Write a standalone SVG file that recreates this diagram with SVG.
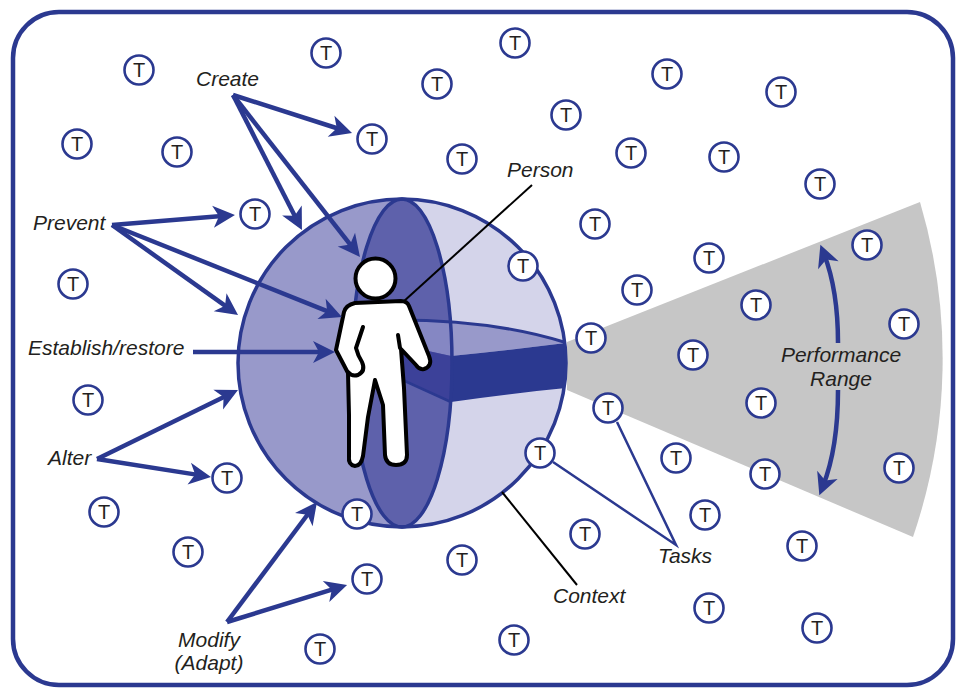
<svg xmlns="http://www.w3.org/2000/svg" width="961" height="689" viewBox="0 0 961 689">
  <style>
    .frame { fill: #ffffff; stroke: #2B3990; stroke-width: 4.5; }
    .task circle { fill: #ffffff; stroke: #2B3990; stroke-width: 2.6; }
    .task text { font-family: "Liberation Sans", Arial, sans-serif; font-size: 20px; fill: #231F20; text-anchor: middle; }
    .label { font-family: "Liberation Sans", Arial, sans-serif; font-size: 21px; font-style: italic; fill: #231F20; }
    .mid { text-anchor: middle; }
    .arrow { fill: none; stroke: #2B3990; stroke-width: 4.5; marker-end: url(#head); }
    .leader { fill: none; stroke: #000000; stroke-width: 2; }
    .taskline { fill: none; stroke: #2B3990; stroke-width: 2.5; }
    .figure { fill: #ffffff; stroke: #000000; stroke-width: 4; stroke-linejoin: round; stroke-linecap: round; }
    .figline { fill: none; stroke: #000000; stroke-width: 4; stroke-linejoin: round; stroke-linecap: round; }
  </style>
  <defs>
    <marker id="head" viewBox="-13 -12 24 24" markerWidth="24" markerHeight="24" refX="0" refY="0" orient="auto" markerUnits="userSpaceOnUse" overflow="visible">
      <path d="M10,0 L-12,-11 L-6,0 L-12,11 Z" fill="#2B3990"/>
    </marker>
    <clipPath id="ball">
      <circle cx="402" cy="363" r="164"/>
    </clipPath>
  </defs>

  <!-- outer frame -->
  <rect class="frame" x="13" y="12" width="940" height="673" rx="46" ry="46"/>

  <!-- performance range wedge -->
  <g id="performance-range">
    <path d="M567,342 L920,202 A552,552 0 0 1 913,537 L567,390 Z" fill="#C6C6C6"/>
  </g>

  <!-- context sphere with cut-away -->
  <g id="context">
    <circle cx="402" cy="363" r="164" fill="#D4D4EA"/>
    <path d="M402,199 A164,164 0 0 0 402,527 Z" fill="#9899CA"/>
    <ellipse cx="402" cy="363" rx="50" ry="164" fill="#5E61AB"/>
    <g clip-path="url(#ball)">
      <!-- upper face of the equatorial slice -->
      <path d="M396,320 Q425,320 451,323 L451,356 L396,344 Z" fill="#8587C3"/>
      <path d="M451,323 C490,326 530,332 567,343 Q510,350 451,356 Z" fill="#9899CA"/>
      <!-- front rim of the slice -->
      <path d="M396,344 L451,356 L451,402 L396,377 Z" fill="#3C4199"/>
      <path d="M451,356 Q510,350 567,343 L567,388 Q505,394 451,402 Z" fill="#2B3990"/>
      <path d="M396,377 L451,402" fill="none" stroke="#2B3990" stroke-width="2.5"/>
      <path d="M396,320 C460,320 520,328 567,343" fill="none" stroke="#2B3990" stroke-width="3"/>
    </g>
    <ellipse cx="402" cy="363" rx="50" ry="164" fill="none" stroke="#2B3990" stroke-width="3.5"/>
    <circle cx="402" cy="363" r="164" fill="none" stroke="#2B3990" stroke-width="3.5"/>
  </g>

  <!-- person figure -->
  <g id="person">
    <circle class="figure" cx="375.5" cy="278.5" r="20"/>
    <path class="figure" d="M355,303 L401,301 Q407,301 409,306 L429,356 Q433,366 424,369 Q419,370 416,365 L401,349 L404,388 L407,455 Q407,465 396,465 Q386,465 385,455 L383,405 L375,380 L368,417 L363,456 Q361,466 355,466 Q348,465 349,456 L349,415 L348,373 L336,350 L344,312 Q346,305 355,303 Z"/>
    <path class="figline" d="M348,372 Q352,377 358,375 Q366,371 362,362 Q358,356 356,348 L363,327"/>
    <path class="figline" d="M398,335 L400,348"/>
  </g>

  <!-- tasks -->
  <g id="t01" class="task"><circle cx="139" cy="70" r="14.5"/><text x="139" y="77">T</text></g>
  <g id="t02" class="task"><circle cx="326" cy="53" r="14.5"/><text x="326" y="60">T</text></g>
  <g id="t03" class="task"><circle cx="515" cy="43" r="14.5"/><text x="515" y="50">T</text></g>
  <g id="t04" class="task"><circle cx="437" cy="84" r="14.5"/><text x="437" y="91">T</text></g>
  <g id="t05" class="task"><circle cx="667" cy="74" r="14.5"/><text x="667" y="81">T</text></g>
  <g id="t06" class="task"><circle cx="781" cy="92" r="14.5"/><text x="781" y="99">T</text></g>
  <g id="t07" class="task"><circle cx="566" cy="115" r="14.5"/><text x="566" y="122">T</text></g>
  <g id="t08" class="task"><circle cx="372" cy="139" r="14.5"/><text x="372" y="146">T</text></g>
  <g id="t09" class="task"><circle cx="77" cy="144" r="14.5"/><text x="77" y="151">T</text></g>
  <g id="t10" class="task"><circle cx="177" cy="152" r="14.5"/><text x="177" y="159">T</text></g>
  <g id="t11" class="task"><circle cx="462" cy="159" r="14.5"/><text x="462" y="166">T</text></g>
  <g id="t12" class="task"><circle cx="631" cy="153" r="14.5"/><text x="631" y="160">T</text></g>
  <g id="t13" class="task"><circle cx="724" cy="157" r="14.5"/><text x="724" y="164">T</text></g>
  <g id="t14" class="task"><circle cx="820" cy="184" r="14.5"/><text x="820" y="191">T</text></g>
  <g id="t15" class="task"><circle cx="255" cy="214" r="14.5"/><text x="255" y="221">T</text></g>
  <g id="t16" class="task"><circle cx="595" cy="224" r="14.5"/><text x="595" y="231">T</text></g>
  <g id="t17" class="task"><circle cx="867" cy="245" r="14.5"/><text x="867" y="252">T</text></g>
  <g id="t18" class="task"><circle cx="523" cy="266" r="14.5"/><text x="523" y="273">T</text></g>
  <g id="t19" class="task"><circle cx="709" cy="258" r="14.5"/><text x="709" y="265">T</text></g>
  <g id="t20" class="task"><circle cx="73" cy="284" r="14.5"/><text x="73" y="291">T</text></g>
  <g id="t21" class="task"><circle cx="637" cy="290" r="14.5"/><text x="637" y="297">T</text></g>
  <g id="t22" class="task"><circle cx="756" cy="305" r="14.5"/><text x="756" y="312">T</text></g>
  <g id="t23" class="task"><circle cx="904" cy="324" r="14.5"/><text x="904" y="331">T</text></g>
  <g id="t24" class="task"><circle cx="591" cy="338" r="14.5"/><text x="591" y="345">T</text></g>
  <g id="t25" class="task"><circle cx="693" cy="355" r="14.5"/><text x="693" y="362">T</text></g>
  <g id="t26" class="task"><circle cx="88" cy="400" r="14.5"/><text x="88" y="407">T</text></g>
  <g id="t27" class="task"><circle cx="761" cy="403" r="14.5"/><text x="761" y="410">T</text></g>
  <g id="t28" class="task"><circle cx="608" cy="408" r="14.5"/><text x="608" y="415">T</text></g>
  <g id="t29" class="task"><circle cx="540" cy="453" r="14.5"/><text x="540" y="460">T</text></g>
  <g id="t30" class="task"><circle cx="676" cy="458" r="14.5"/><text x="676" y="465">T</text></g>
  <g id="t31" class="task"><circle cx="899" cy="468" r="14.5"/><text x="899" y="475">T</text></g>
  <g id="t32" class="task"><circle cx="227" cy="478" r="14.5"/><text x="227" y="485">T</text></g>
  <g id="t33" class="task"><circle cx="765" cy="474" r="14.5"/><text x="765" y="481">T</text></g>
  <g id="t34" class="task"><circle cx="104" cy="512" r="14.5"/><text x="104" y="519">T</text></g>
  <g id="t35" class="task"><circle cx="357" cy="514" r="14.5"/><text x="357" y="521">T</text></g>
  <g id="t36" class="task"><circle cx="705" cy="515" r="14.5"/><text x="705" y="522">T</text></g>
  <g id="t37" class="task"><circle cx="585" cy="534" r="14.5"/><text x="585" y="541">T</text></g>
  <g id="t38" class="task"><circle cx="188" cy="552" r="14.5"/><text x="188" y="559">T</text></g>
  <g id="t39" class="task"><circle cx="802" cy="546" r="14.5"/><text x="802" y="553">T</text></g>
  <g id="t40" class="task"><circle cx="462" cy="560" r="14.5"/><text x="462" y="567">T</text></g>
  <g id="t41" class="task"><circle cx="367" cy="579" r="14.5"/><text x="367" y="586">T</text></g>
  <g id="t42" class="task"><circle cx="709" cy="608" r="14.5"/><text x="709" y="615">T</text></g>
  <g id="t43" class="task"><circle cx="817" cy="628" r="14.5"/><text x="817" y="635">T</text></g>
  <g id="t44" class="task"><circle cx="514" cy="640" r="14.5"/><text x="514" y="647">T</text></g>
  <g id="t45" class="task"><circle cx="320" cy="649" r="14.5"/><text x="320" y="656">T</text></g>

  <!-- connectors -->
  <g id="connectors">
    <!-- create -->
    <path class="arrow" d="M233,95 L342.5,130"/>
    <path class="arrow" d="M233,95 L297.4,221.1"/>
    <path class="arrow" d="M233,95 L353.8,249.1"/>
    <!-- prevent -->
    <path class="arrow" d="M112,225 L225,215.8"/>
    <path class="arrow" d="M112,225 L229.9,309.2"/>
    <path class="arrow" d="M112,225 L332.7,313.3"/>
    <!-- establish/restore -->
    <path class="arrow" d="M193,352 L325,352"/>
    <!-- alter -->
    <path class="arrow" d="M97,459 L229,394.4"/>
    <path class="arrow" d="M97,459 L201.1,475.4"/>
    <!-- modify (adapt) -->
    <path class="arrow" d="M227,622 L311,510"/>
    <path class="arrow" d="M227,622 L337.5,587.9"/>
    <!-- performance range -->
    <path class="arrow" d="M838,343 Q838,290 824,254"/>
    <path class="arrow" d="M838,390 Q838,448 823,486"/>
    <!-- leaders -->
    <path class="leader" d="M403,302 L532,185"/>
    <path class="leader" d="M502,492 L577,585"/>
    <path class="taskline" d="M617,422 L676,545 L553,462"/>
  </g>

  <!-- labels -->
  <g id="labels">
    <text class="label" x="196" y="86">Create</text>
    <text class="label" x="33" y="230">Prevent</text>
    <text class="label" x="28" y="355">Establish/restore</text>
    <text class="label" x="48" y="465">Alter</text>
    <text class="label mid" x="209" y="647">Modify</text>
    <text class="label mid" x="209" y="670">(Adapt)</text>
    <text class="label" x="507" y="177">Person</text>
    <text class="label" x="553" y="603">Context</text>
    <text class="label" x="658" y="563">Tasks</text>
    <text class="label mid" x="841" y="362">Performance</text>
    <text class="label mid" x="841" y="386">Range</text>
  </g>
</svg>
